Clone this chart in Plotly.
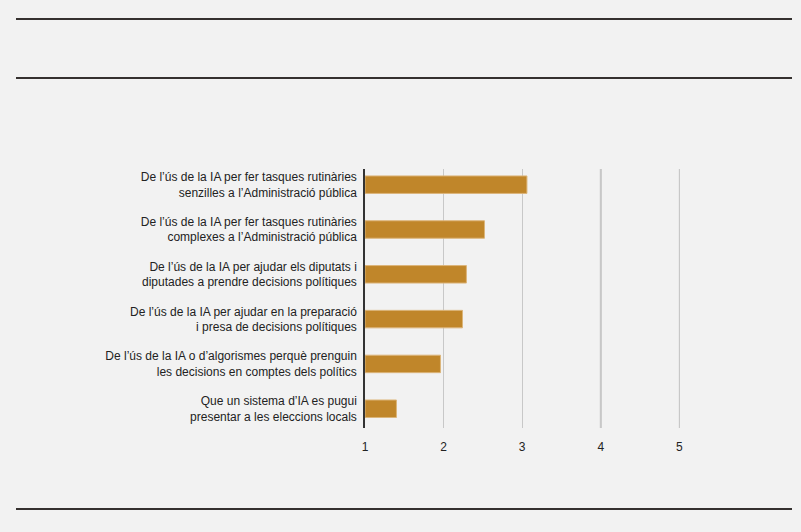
import plotly.graph_objects as go

# Data

categories = [
    "De l’ús de la IA per fer tasques rutinàries<br>senzilles a l’Administració pública",
    "De l’ús de la IA per fer tasques rutinàries<br>complexes a l’Administració pública",
    "De l’ús de la IA per ajudar els diputats i<br>diputades a prendre decisions polítiques",
    "De l’ús de la IA per ajudar en la preparació<br>i presa de decisions polítiques",
    "De l’ús de la IA o d’algorismes perquè prenguin<br>les decisions en comptes dels polítics",
    "Que un sistema d’IA es pugui<br>presentar a les eleccions locals",
]
values = [3.06, 2.52, 2.29, 2.24, 1.96, 1.40]
x_ticks = [1, 2, 3, 4, 5]

title = "El suport de la població espanyola a l’ús de la IA a l’Administració pública es limita a tasques rutinàries i senzilles"
subtitle = "«Fins a quin punt estàs a favor...?»"
unit = "Mitjana d’1 a 5"
source = "Font: elaboració pròpia a partir de les dades de l’enquesta."
credit = "L’Observatori Social de la Fundació “la Caixa”."

W, H = 801, 532
L, R, T, B = 365, 120, 169, 104
TITLE_FONT = "Roboto, sans-serif"
BODY_FONT = "Liberation Sans, Arial, sans-serif"
INK = "#35312f"


def px(x):
    return (x - L) / (W - L - R)


def py(y):
    return 1 - (y - T) / (H - T - B)


fig = go.Figure(go.Bar(
    x=[v - 1 for v in values],
    base=1,
    y=categories,
    orientation="h",
    width=0.39,
    marker=dict(color="#c0862a", line=dict(color="#dcb57a", width=1)),
    hoverinfo="skip",
))

fig.update_layout(
    width=W, height=H,
    margin=dict(l=L, r=R, t=T, b=B),
    paper_bgcolor="#f2f2f2",
    plot_bgcolor="#f2f2f2",
    showlegend=False,
    font=dict(family=BODY_FONT, size=12, color="#222"),
)

fig.update_xaxes(
    range=[1, 5.02], tickvals=x_ticks, showgrid=True, gridcolor="#c8c8c8",
    gridwidth=1, zeroline=False, ticks="", ticklabelstandoff=10,
    tickfont=dict(size=12, color="#222"),
)
fig.update_yaxes(
    range=[5.43, -0.35], showline=True, linecolor="#333", linewidth=1.5,
    ticks="", ticklabelstandoff=4, tickfont=dict(size=12, color="#222"),
)

# rules
for y0 in [19, 78, 509]:
    fig.add_shape(type="line", xref="paper", yref="paper",
                  x0=px(16), x1=px(792), y0=py(y0), y1=py(y0),
                  line=dict(color=INK, width=2))

# grid line at 4 a bit heavier, at 5 darker
fig.add_shape(type="line", xref="x", yref="paper", layer="below",
              x0=x_ticks[3], x1=x_ticks[3], y0=0, y1=1,
              line=dict(color="#c4c4c4", width=2))
fig.add_shape(type="line", xref="x", yref="paper", layer="below",
              x0=x_ticks[4], x1=x_ticks[4], y0=0, y1=1,
              line=dict(color="#999999", width=1))

fig.write_html("out.html", config={"displayModeBar": False},
               post_script="document.body.style.margin='0';")
